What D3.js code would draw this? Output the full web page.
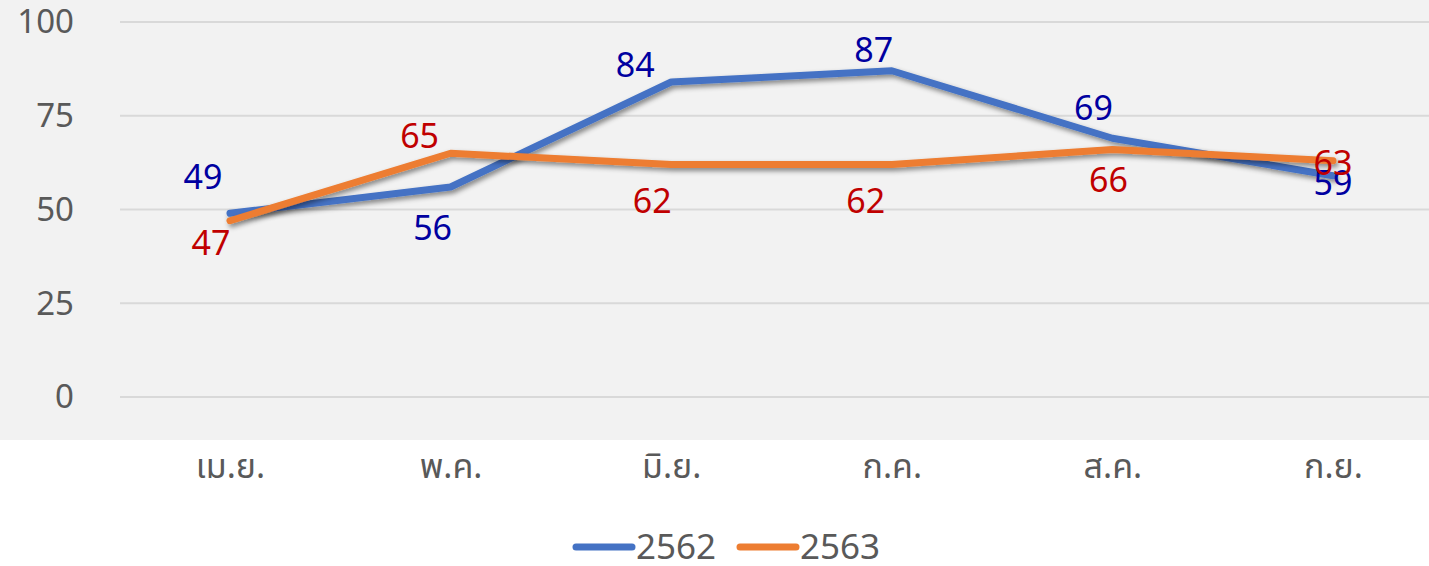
<!DOCTYPE html>
<html><head><meta charset="utf-8">
<script src="https://cdn.jsdelivr.net/npm/d3@7"></script>
<style>
html,body{margin:0;padding:0;background:#fff;}
svg text{font-family:"Noto Sans Thai","Noto Sans","Leelawadee UI",Tahoma,sans-serif;}
</style></head>
<body>
<svg id="c" width="1429" height="566"></svg>
<script>
const categories = ["เม.ย.","พ.ค.","มิ.ย.","ก.ค.","ส.ค.","ก.ย."];
const seriesNames = ["2562","2563"];
const values2562 = [49,56,84,87,69,59];
const values2563 = [47,65,62,62,66,63];
const yTicks = [0,25,50,75,100];
// label offsets (dx, dy) relative to each point
const labelOffsets2562 = [[-27,-36],[-18,41],[-36,-17],[-18,-21],[-19,-30],[0,7]];
const labelOffsets2563 = [[-19,22],[-31,-17],[-19,37],[-26,37],[-4,31],[0,2]];

const W=1429,H=566;
const svg=d3.select("#c");
const defs=svg.append("defs");
const f=defs.append("filter").attr("id","sh").attr("x","-5%").attr("y","-20%").attr("width","110%").attr("height","160%");
f.append("feDropShadow").attr("dx",2).attr("dy",3).attr("stdDeviation",2.5).attr("flood-color","#000").attr("flood-opacity",0.45);

svg.append("rect").attr("x",0).attr("y",0).attr("width",W).attr("height",440).attr("fill","#f2f2f2");

const x=d3.scalePoint().domain(categories).range([230,1333]);
const y=d3.scaleLinear().domain([0,100]).range([397,22]);

const grid=svg.append("g");
grid.selectAll("line").data(yTicks).join("line")
  .attr("x1",120).attr("x2",W).attr("y1",d=>y(d)).attr("y2",d=>y(d))
  .attr("stroke","#d9d9d9").attr("stroke-width",2);

const yAxis=svg.append("g").attr("transform","translate(74,0)")
  .call(d3.axisLeft(y).tickValues(yTicks).tickSize(0).tickPadding(0));
yAxis.select(".domain").remove();
yAxis.selectAll("text").attr("fill","#595959").style("font-size","33px").attr("dy","0.33em");

const xAxis=svg.append("g").attr("transform","translate(0,440)")
  .call(d3.axisBottom(x).tickSize(0).tickPadding(0));
xAxis.select(".domain").remove();
xAxis.selectAll("text").attr("fill","#595959").style("font-size","34px").attr("y",38).attr("dy","0");

const series=[
  {name:seriesNames[0],vals:values2562,color:"#4472c4",lab:"#0000a0",off:labelOffsets2562},
  {name:seriesNames[1],vals:values2563,color:"#ed7d31",lab:"#c00000",off:labelOffsets2563}
];
const line=d3.line().x((d,i)=>x(categories[i])).y(d=>y(d));
series.forEach(s=>{
  svg.append("path").datum(s.vals).attr("d",line).attr("fill","none")
    .attr("stroke",s.color).attr("stroke-width",7).attr("stroke-linejoin","round").attr("stroke-linecap","round")
    .attr("filter","url(#sh)");
});
series.forEach(s=>{
  svg.append("g").selectAll("text").data(s.vals).join("text")
    .attr("x",(d,i)=>x(categories[i])+s.off[i][0])
    .attr("y",(d,i)=>y(d)+s.off[i][1])
    .attr("dy","0.35em").attr("text-anchor","middle")
    .attr("fill",s.lab).style("font-size","34px").text(d=>d);
});

// legend
const lg=svg.append("g");
const lx=[576,740];
series.forEach((s,i)=>{
  lg.append("line").attr("x1",lx[i]).attr("x2",lx[i]+56).attr("y1",547).attr("y2",547)
    .attr("stroke",s.color).attr("stroke-width",7).attr("stroke-linecap","round");
  lg.append("text").attr("x",lx[i]+60).attr("y",547).attr("dy","0.33em")
    .attr("fill","#595959").style("font-size","35px").text(s.name);
});
</script>
</body></html>
